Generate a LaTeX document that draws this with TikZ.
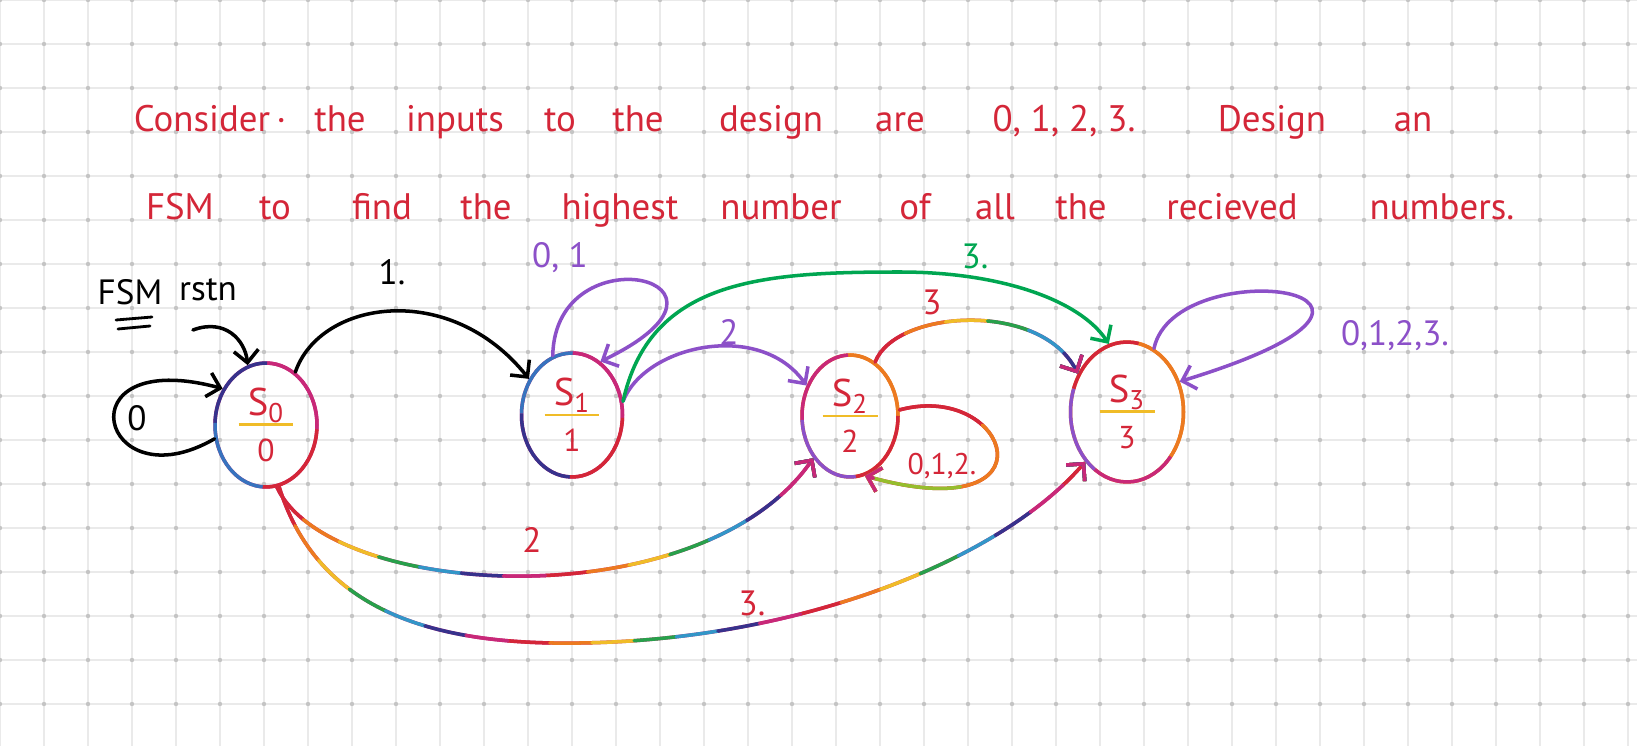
\documentclass[tikz,border=0pt]{standalone}
\usepackage{fontspec}
\setmainfont{PT Sans}
\usetikzlibrary{arrows.meta, shapes.geometric}
\definecolor{hred}{RGB}{212,38,56}
\definecolor{horange}{RGB}{236,122,32}
\definecolor{hyellow}{RGB}{240,188,40}
\definecolor{hlime}{RGB}{150,190,45}
\definecolor{hgreen}{RGB}{40,160,75}
\definecolor{hcyan}{RGB}{50,150,200}
\definecolor{hblue}{RGB}{55,115,190}
\definecolor{hnavy}{RGB}{55,50,140}
\definecolor{hmag}{RGB}{200,40,120}
\definecolor{hpurple}{RGB}{140,80,200}
\definecolor{hgreenln}{RGB}{0,166,81}
\definecolor{gridgray}{RGB}{234,234,234}
\definecolor{dotgray}{RGB}{196,196,196}
\tikzset{
  gridln/.style    = {draw=gridgray, line width=0.85pt},
  griddot/.style   = {fill=dotgray},
  statenode/.style = {ellipse, line width=2pt, inner sep=0pt,
                      align=center, text=hred,
                      font=\fontsize{22}{13}\selectfont},
  band4/.style n args = {4}{draw=#1,
      postaction={draw=#1, dash pattern=on 50pt off 150pt},
      postaction={draw=#2, dash pattern=on 50pt off 150pt, dash phase=150pt},
      postaction={draw=#3, dash pattern=on 50pt off 150pt, dash phase=100pt},
      postaction={draw=#4, dash pattern=on 50pt off 150pt, dash phase=50pt}},
  rainbow/.style   = {draw=hmag,
      postaction={draw=hred,    dash pattern=on 24pt off 144pt},
      postaction={draw=horange, dash pattern=on 24pt off 144pt, dash phase=144pt},
      postaction={draw=hyellow, dash pattern=on 24pt off 144pt, dash phase=120pt},
      postaction={draw=hgreen,  dash pattern=on 24pt off 144pt, dash phase=96pt},
      postaction={draw=hcyan,   dash pattern=on 24pt off 144pt, dash phase=72pt},
      postaction={draw=hnavy,   dash pattern=on 24pt off 144pt, dash phase=48pt},
      postaction={draw=hmag,    dash pattern=on 24pt off 144pt, dash phase=24pt}},
  edge/.style      = {line width=2pt, line cap=round,
                      -{Straight Barb[length=7pt, width=14pt]}},
  titletext/.style = {anchor=base, text=hred, font=\fontsize{21}{25}\selectfont},
  edgelabel/.style = {font=\fontsize{20}{22}\selectfont},
}
\newcommand{\statetxt}[1]{S\textsubscript{#1}\\
  \textcolor{hyellow}{\rule[7pt]{1.1cm}{1.6pt}}\\
  {\fontsize{18}{13}\selectfont #1}}

\begin{document}
\begin{tikzpicture}[x=0.02cm, y=-0.02cm]
  \fill[white] (0,0) rectangle (1637,746);
  \useasboundingbox (0,0) rectangle (1637,746);
  % squared paper
  \foreach \gx in {0,44,...,1628} \draw[gridln] (\gx,0) -- (\gx,746);
  \foreach \gy in {0,44,...,704} \draw[gridln] (0,\gy) -- (1637,\gy);
  \foreach \gx in {0,44,...,1628}
    \foreach \gy in {0,44,...,704} \fill[griddot] (\gx,\gy) circle (2.2);

  % problem statement
  \foreach \wrd/\wx [count=\wi] in {{Consider\,·}/210, the/340, inputs/455, to/560,
      the/638, design/771, are/900, {0, 1, 2, 3.}/1064, Design/1272, an/1413}
    \node[titletext] (ta\wi) at (\wx,132) {\wrd};
  \foreach \wrd/\wx [count=\wi] in {FSM/180, to/275, find/382, the/486, highest/620,
      number/781, of/915, all/995, the/1081, recieved/1232, numbers./1442}
    \node[titletext] (tb\wi) at (\wx,220) {\wrd};

  % states
  \node[statenode, band4={hmag}{hnavy}{hblue}{hred},
        minimum width=2.04cm, minimum height=2.48cm] (s0) at (266,425) {\statetxt{0}};
  \node[statenode, band4={hmag}{hblue}{hnavy}{hred},
        minimum width=2.02cm, minimum height=2.48cm] (s1) at (572,415) {\statetxt{1}};
  \node[statenode, band4={horange}{hmag}{hpurple}{hred},
        minimum width=1.92cm, minimum height=2.44cm] (s2) at (850,416) {\statetxt{2}};
  \node[statenode, band4={horange}{hred}{hpurple}{hmag},
        minimum width=2.26cm, minimum height=2.8cm] (s3) at (1127,412) {\statetxt{3}};

  % reset
  \node[edgelabel] (fsm) at (130,292) {FSM};
  \node[edgelabel] (rstn) at (208,290) {rstn};
  \draw[line width=1.6pt, line cap=round] (116,320) -- (152,317) (118,329) -- (150,326);
  \coordinate (rst) at (193,330);
  \draw[edge] (rst) .. controls (225,318) and (245,340) .. (s0.107);

  % transitions
  \draw[edge] (s0.195) .. controls (100,505) and (60,345) .. (s0.140);
  \node[edgelabel] (l00) at (137,418) {0};
  \draw[edge] (s0.61) .. controls (320,300) and (450,280) .. (s1.140);
  \node[edgelabel] (l01) at (392,272) {1.};
  \draw[edge, hpurple] (s1.108) .. controls (555,230) and (770,280) .. (s1.62);
  \node[edgelabel, hpurple] (l11) at (560,258) {0, 1};
  \draw[edge, hpurple] (s1.15) .. controls (645,345) and (760,320) .. (s2.145);
  \node[edgelabel, hpurple] (l12) at (729,332) {2};
  \draw[edge, hgreenln] (s1.15) .. controls (650,280) and (760,272) .. (900,272)
        .. controls (1000,272) and (1080,300) .. (s3.105);
  \node[edgelabel, hgreenln] (l13) at (975,256) {3.};
  \draw[edge, rainbow] (s2.65) .. controls (895,310) and (1040,300) .. (s3.142);
  \node[edgelabel, hred] (l23) at (932,302) {3};
  \draw[edge, band4={hred}{horange}{hlime}{hmag}] (s2.7)
        .. controls (1010,380) and (1060,530) .. (s2.284);
  \node[edgelabel, hred, font=\fontsize{17}{18}\selectfont] (l22) at (942,466) {0,1,2.};
  \draw[edge, hpurple] (s3.67) .. controls (1175,250) and (1480,290) .. (s3.30);
  \node[edgelabel, hpurple] (l33) at (1395,336) {0,1,2,3.};
  \draw[edge, rainbow] (s0.280) .. controls (330,600) and (700,620) .. (s2.229);
  \node[edgelabel, hred] (l02) at (532,540) {2};
  \draw[edge, rainbow] (s0.282) .. controls (320,620) and (450,645) .. (580,643)
        .. controls (800,640) and (1000,560) .. (s3.230);
  \node[edgelabel, hred] (l03) at (752,603) {3.};
\end{tikzpicture}
\end{document}
